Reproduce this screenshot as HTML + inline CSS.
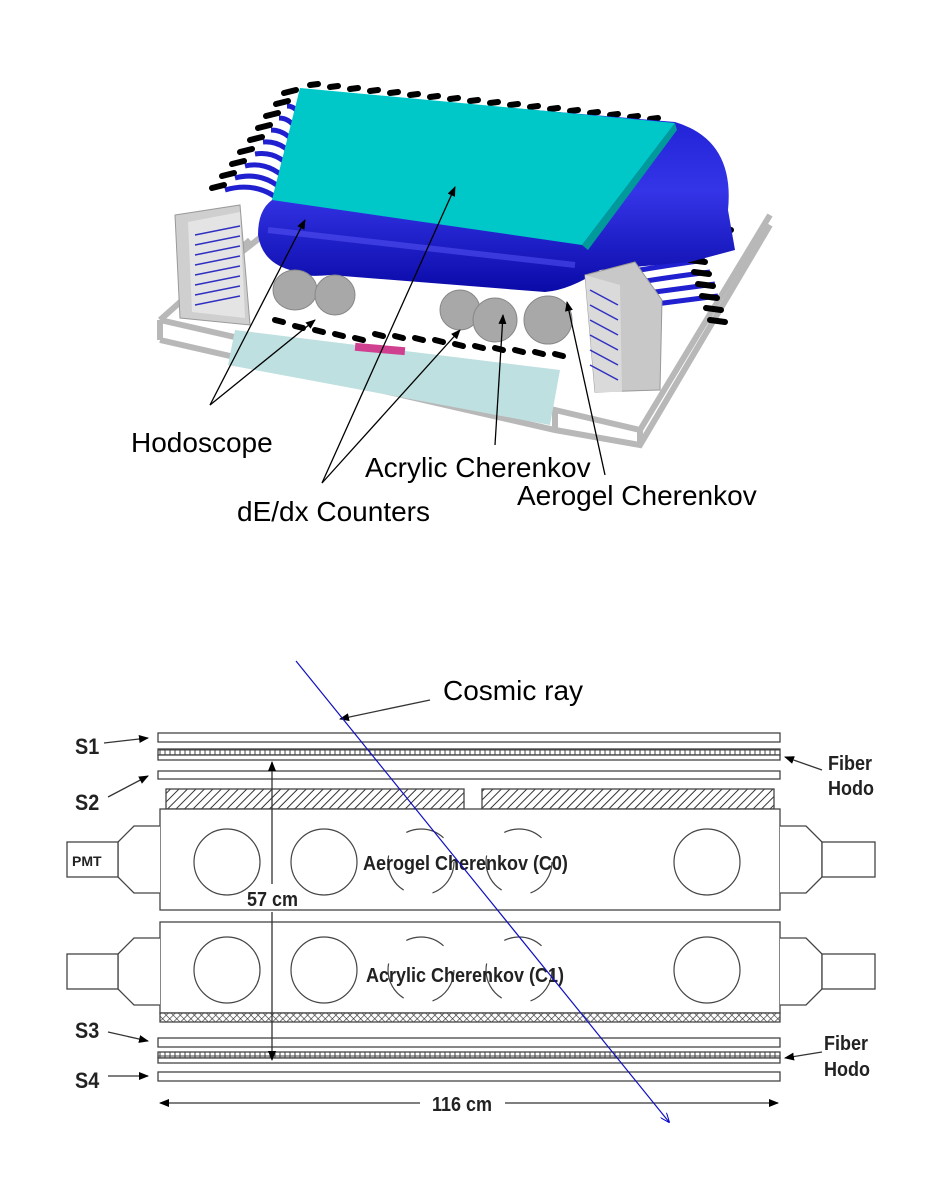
<!DOCTYPE html>
<html><head><meta charset="utf-8"><style>
html,body{margin:0;padding:0;background:#fff}
svg{display:block}
text{font-family:"Liberation Sans",sans-serif}
</style></head><body>
<svg width="931" height="1193" viewBox="0 0 931 1193" xmlns="http://www.w3.org/2000/svg">
<defs>
<pattern id="hatch" width="6" height="6" patternUnits="userSpaceOnUse" patternTransform="rotate(45)">
<rect width="6" height="6" fill="#fff"/><line x1="0" y1="0" x2="0" y2="6" stroke="#333" stroke-width="2"/></pattern>
<pattern id="cross" width="5" height="5" patternUnits="userSpaceOnUse" patternTransform="rotate(45)">
<rect width="5" height="5" fill="#fff"/><path d="M0 0V5M0 0H5" stroke="#333" stroke-width="1.3"/></pattern>
<pattern id="fib" width="5" height="6" patternUnits="userSpaceOnUse">
<rect width="5" height="6" fill="#fff"/><rect x="0" y="0" width="5" height="6" fill="none" stroke="#444" stroke-width="1"/></pattern>
<marker id="ah" markerWidth="10" markerHeight="8" refX="9" refY="4" orient="auto" markerUnits="userSpaceOnUse"><path d="M0,0 L10,4 L0,8 z" fill="#000"/></marker>
<marker id="ab" markerWidth="10" markerHeight="8" refX="9" refY="4" orient="auto" markerUnits="userSpaceOnUse"><path d="M0,0 L10,4 L0,8" fill="none" stroke="#00c" stroke-width="1"/></marker>
<linearGradient id="bl" x1="0" y1="0" x2="0" y2="1"><stop offset="0" stop-color="#1a1ad0"/><stop offset="0.5" stop-color="#3535e8"/><stop offset="1" stop-color="#0a0aa8"/></linearGradient>
</defs>

<!-- ===== top 3D render ===== -->
<g stroke="#b8b8b8" stroke-width="6" fill="none">
<path d="M160 320 L555 410 L640 430 L770 215"/>
<path d="M160 340 L555 430 L640 445 L770 225"/>
<path d="M160 320 L160 340 M555 410 L555 430 M640 430 L640 445"/>
<path d="M160 320 L250 240 M180 300 L270 230"/>
</g>
<polygon points="235,330 560,370 550,425 228,365" fill="#bfe0e0"/>
<rect x="355" y="345" width="50" height="8" fill="#d04090" transform="rotate(5 380 349)"/>
<!-- fibers -->
<g stroke="#2020d0" stroke-width="5" fill="none">
<path d="M225 190 Q260 180 285 205 M235 178 Q265 170 288 195 M245 166 Q270 160 292 185 M255 154 Q280 150 296 175 M263 142 Q285 140 300 165 M271 130 Q290 130 302 155 M279 118 Q295 118 304 145 M287 106 Q300 106 306 130"/>
<path d="M640 270 Q670 265 705 260 M640 282 Q670 277 710 272 M640 294 Q670 290 715 284 M640 306 Q670 302 718 296"/>
</g>
<g stroke="#000" stroke-width="6" stroke-linecap="round">
<path d="M212 188 L224 185 M222 176 L234 173 M232 164 L244 161 M240 152 L252 149 M250 140 L262 137 M258 128 L270 125 M266 116 L278 113 M276 104 L288 101 M284 93 L296 90"/>
<path d="M310 85 L318 84 M330 87 L338 86 M350 89 L358 88 M370 91 L378 90 M390 93 L398 92 M410 95 L418 94 M430 97 L438 96 M450 99 L458 98 M470 101 L478 100 M490 103 L498 102 M510 105 L518 104 M530 107 L538 106 M550 109 L558 108 M570 111 L578 110 M590 113 L598 112 M610 115 L618 114 M630 117 L638 116 M650 119 L658 118"/>
<path d="M690 260 L705 262 M694 272 L709 274 M698 284 L713 286 M702 296 L717 298 M706 308 L721 310 M710 320 L725 322 M712 240 L727 242 M716 228 L731 230"/>
<path d="M275 320 L283 322 M295 326 L303 328 M315 330 L323 332 M335 334 L343 336 M355 338 L363 340 M375 334 L383 336 M395 336 L403 338 M415 338 L423 340 M435 340 L443 342 M455 344 L463 346 M475 346 L483 348 M495 348 L503 350 M515 350 L523 352 M535 352 L543 354 M555 354 L563 356"/>
</g>
<!-- gray boxes -->
<polygon points="175,215 240,205 250,325 180,318" fill="#cfcfcf" stroke="#999"/>
<polygon points="188,222 240,212 245,318 192,312" fill="#e4e4e4"/>
<g stroke="#3030c0" stroke-width="1.5"><path d="M195 235 L240 226 M195 245 L240 236 M195 255 L240 246 M195 265 L240 256 M195 275 L240 266 M195 285 L240 276 M195 295 L240 286 M195 305 L240 296"/></g>
<!-- blue body -->
<path d="M300 90 L675 122 Q735 140 728 210 L735 250 L690 262 L600 270 Q570 290 545 292 L330 275 Q300 278 290 270 Q262 262 258 235 Q258 210 272 200 Z" fill="url(#bl)"/>
<path d="M268 230 Q400 245 575 265" stroke="#5050f0" stroke-width="6" fill="none" opacity="0.6"/>
<!-- cyan top -->
<polygon points="300,88 675,123 582,245 272,200" fill="#00c8c8"/>
<polygon points="582,245 675,123 677,130 588,250" fill="#009a9a"/>
<!-- cylinders -->
<g fill="#a8a8a8" stroke="#888">
<ellipse cx="295" cy="290" rx="22" ry="20"/><ellipse cx="335" cy="295" rx="20" ry="20"/>
<ellipse cx="460" cy="310" rx="20" ry="20"/><ellipse cx="495" cy="320" rx="22" ry="22"/><ellipse cx="548" cy="320" rx="24" ry="24"/>
</g>
<!-- right box -->
<polygon points="585,275 635,262 662,300 660,390 595,392" fill="#c8c8c8" stroke="#999"/>
<polygon points="585,275 620,285 622,392 595,392" fill="#dadada"/>
<g stroke="#3030c0" stroke-width="1.5"><path d="M590 290 L618 305 M590 305 L618 320 M590 320 L618 335 M590 335 L618 350 M590 350 L618 365 M590 365 L618 380"/></g>
<!-- leader lines -->
<g stroke="#000" stroke-width="1.3" fill="none" marker-end="url(#ah)">
<path d="M210 405 L305 220"/><path d="M210 405 L315 320"/>
<path d="M322 483 L455 187"/><path d="M322 483 L460 330"/>
<path d="M495 445 L503 315"/><path d="M605 475 L567 302"/>
</g>
<g font-size="28" fill="#000">
<text x="131" y="452">Hodoscope</text>
<text x="365" y="477">Acrylic Cherenkov</text>
<text x="517" y="505">Aerogel Cherenkov</text>
<text x="237" y="521">dE/dx Counters</text>
</g>

<!-- ===== bottom schematic ===== -->
<g stroke="#444" stroke-width="1.3" fill="#fff">
<rect x="158" y="733" width="622" height="9"/>
<rect x="158" y="749" width="622" height="6" fill="url(#fib)"/>
<rect x="158" y="755" width="622" height="5"/>
<rect x="158" y="771" width="622" height="8"/>
<rect x="166" y="789" width="298" height="20" fill="url(#hatch)"/>
<rect x="482" y="789" width="292" height="20" fill="url(#hatch)"/>
<rect x="160" y="809" width="620" height="101"/>
<rect x="160" y="922" width="620" height="91"/>
<rect x="160" y="1013" width="620" height="9" fill="url(#cross)"/>
<rect x="158" y="1038" width="622" height="9"/>
<rect x="158" y="1052" width="622" height="6" fill="url(#fib)"/>
<rect x="158" y="1058" width="622" height="5"/>
<rect x="158" y="1072" width="622" height="9"/>
<path d="M160 826 H134 L118 842 V877 L134 893 H160"/><rect x="67" y="842" width="51" height="35"/>
<path d="M780 826 H806 L822 842 V877 L806 893 H780"/><rect x="822" y="842" width="53" height="35"/>
<path d="M160 938 H134 L118 954 V989 L134 1005 H160"/><rect x="67" y="954" width="51" height="35"/>
<path d="M780 938 H806 L822 954 V989 L806 1005 H780"/><rect x="822" y="954" width="53" height="35"/>
</g>
<g stroke="#444" stroke-width="1.2" fill="none">
<circle cx="227" cy="862" r="33"/><circle cx="324" cy="862" r="33"/><circle cx="707" cy="862" r="33"/>
<circle cx="421" cy="862" r="33" stroke-dasharray="40 30"/><circle cx="519" cy="862" r="33" stroke-dasharray="40 30"/>
<circle cx="227" cy="970" r="33"/><circle cx="324" cy="970" r="33"/><circle cx="707" cy="970" r="33"/>
<circle cx="421" cy="970" r="33" stroke-dasharray="40 30"/><circle cx="519" cy="970" r="33" stroke-dasharray="40 30"/>
</g>
<g font-family="Liberation Sans" font-weight="bold" fill="#222">
<text x="363" y="870" font-size="20" transform="scale(0.9 1)" transform-origin="363 870">Aerogel Cherenkov (C0)</text>
<text x="366" y="982" font-size="20" transform="scale(0.9 1)" transform-origin="366 982">Acrylic Cherenkov (C1)</text>
<text x="72" y="866" font-size="14">PMT</text>
<text x="247" y="906" font-size="20" transform="scale(0.9 1)" transform-origin="247 906">57 cm</text>
<text x="432" y="1111" font-size="20" transform="scale(0.9 1)" transform-origin="432 1111">116 cm</text>
<text x="75" y="754" font-size="22" transform="scale(0.9 1)" transform-origin="75 754">S1</text>
<text x="75" y="810" font-size="22" transform="scale(0.9 1)" transform-origin="75 810">S2</text>
<text x="75" y="1038" font-size="22" transform="scale(0.9 1)" transform-origin="75 1038">S3</text>
<text x="75" y="1088" font-size="22" transform="scale(0.9 1)" transform-origin="75 1088">S4</text>
<text x="828" y="770" font-size="20" transform="scale(0.9 1)" transform-origin="828 770">Fiber</text>
<text x="828" y="795" font-size="20" transform="scale(0.9 1)" transform-origin="828 795">Hodo</text>
<text x="824" y="1050" font-size="20" transform="scale(0.9 1)" transform-origin="824 1050">Fiber</text>
<text x="824" y="1076" font-size="20" transform="scale(0.9 1)" transform-origin="824 1076">Hodo</text>
</g>
<g stroke="#333" stroke-width="1.3" fill="none" marker-end="url(#ah)">
<path d="M104 743 L148 738"/><path d="M108 797 L148 776"/>
<path d="M108 1032 L148 1041"/><path d="M108 1076 L148 1076"/>
<path d="M822 770 L785 757"/><path d="M822 1052 L785 1058"/>
<path d="M272 884 L272 762"/><path d="M272 912 L272 1060"/>
<path d="M420 1103 L160 1103"/><path d="M505 1103 L778 1103"/>
<path d="M430 700 L340 719"/>
</g>
<text x="443" y="700" font-size="28" fill="#000">Cosmic ray</text>
<line x1="296" y1="661" x2="669" y2="1122" stroke="#1010c0" stroke-width="1.2" marker-end="url(#ab)"/>
</svg>
</body></html>
